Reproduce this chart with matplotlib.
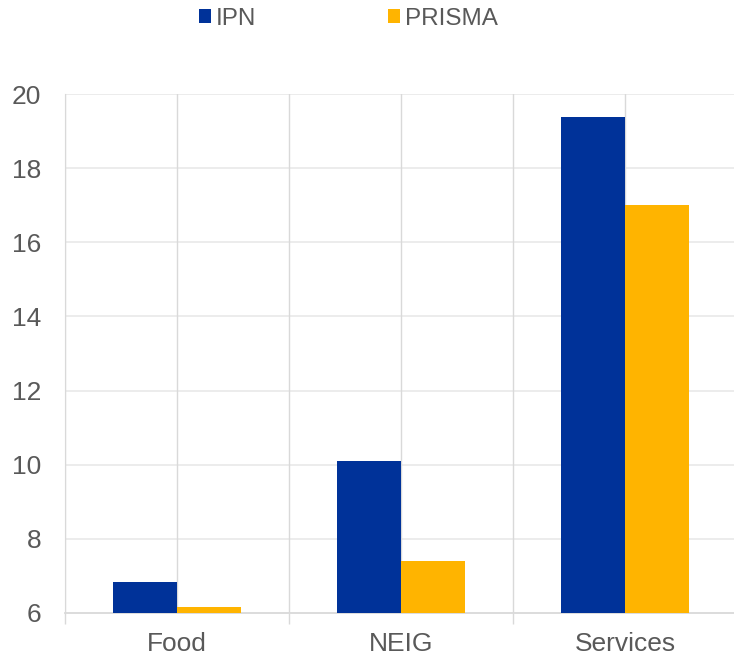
import matplotlib
matplotlib.use("Agg")
import matplotlib.pyplot as plt
import numpy as np

plt.rcParams['font.family'] = ['Liberation Sans', 'DejaVu Sans']

categories = ["Food", "NEIG", "Services"]
ipn = [6.83, 10.1, 19.37]
prisma = [6.16, 7.40, 17.0]
series_names = ["IPN", "PRISMA"]
y_ticks = [6, 8, 10, 12, 14, 16, 18, 20]

blue = "#003299"
yellow = "#FFB400"
text_col = "#595959"

fig = plt.figure(figsize=(7.34, 6.55), dpi=100)
ax = fig.add_axes([65 / 734, 1 - 613 / 655, 672 / 734, (613 - 94) / 655])

x = np.arange(len(categories))
w = 0.2857
base = y_ticks[0]
ax.bar(x - w / 2, np.array(ipn) - base, w, bottom=base, color=blue, zorder=3, label=series_names[0])
ax.bar(x + w / 2, np.array(prisma) - base, w, bottom=base, color=yellow, zorder=3, label=series_names[1])

ax.set_xlim(-0.5, len(categories) - 0.5)
ax.set_ylim(6, 20)
ax.set_yticks(y_ticks)
ax.set_yticklabels([str(v) for v in y_ticks], fontsize=19, color=text_col)
ax.tick_params(axis='y', length=0, pad=17)

# horizontal grid
for v in y_ticks[1:]:
    ax.axhline(v, color="#ebebeb", lw=1.3, zorder=1)
# vertical grid at category centres and boundaries
for xv in np.arange(-0.5, len(categories), 0.5):
    ax.axvline(xv, color="#d9d9d9", lw=1.0, zorder=1)

ax.set_xticks(x)
ax.set_xticklabels(categories, fontsize=19, color=text_col)
ax.tick_params(axis='x', length=0, pad=14)
# boundary tick marks below the axis
ax.set_xticks(np.arange(-0.5, len(categories), 1.0), minor=True)
ax.tick_params(axis='x', which='minor', length=8, color="#d9d9d9", width=1.0)

for s in ["top", "right"]:
    ax.spines[s].set_visible(False)
ax.spines["left"].set_color("#d9d9d9")
ax.spines["bottom"].set_color("#d9d9d9")
ax.spines["bottom"].set_linewidth(1.3)

leg = fig.legend(loc="center left", bbox_to_anchor=(199 / 734, 1 - 19 / 655), ncol=2,
                 frameon=False, fontsize=17.5, handlelength=0.5, handleheight=0.5,
                 handletextpad=0.2, columnspacing=5.4, labelcolor=text_col,
                 borderpad=0, borderaxespad=0)

fig.savefig("out.png", dpi=100)
